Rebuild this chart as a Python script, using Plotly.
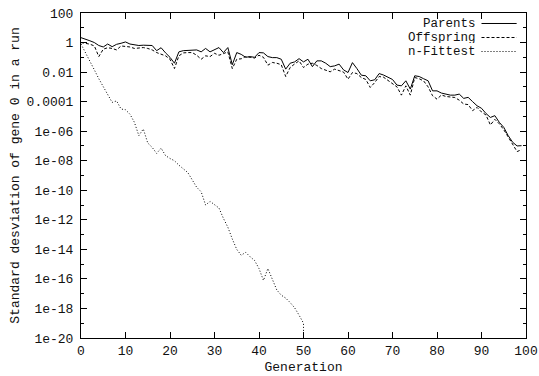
import plotly.graph_objects as go

# ---- data (log10 of the standard deviation) ----
generations = list(range(100))

parents_log10 = [
    0.33, 0.20, 0.12, 0.00, -0.20, -0.30, -0.10, -0.28, -0.12, -0.05,
    0.04, -0.10, -0.15, -0.20, -0.18, -0.20, -0.20, -0.55, -0.35, -0.70,
    -1.00, -1.40, -0.63, -0.55, -0.52, -0.50, -0.50, -0.63, -0.40, -0.63,
    -0.50, -0.34, -0.68, -0.34, -1.50, -0.68, -0.80, -1.00, -0.95, -1.00,
    -0.68, -0.70, -0.95, -1.02, -1.02, -1.13, -1.80, -1.40, -1.31, -1.09,
    -1.31, -1.13, -1.63, -1.24, -1.24, -1.40, -1.63, -1.58, -1.46, -1.85,
    -2.03, -1.36, -1.76, -2.21, -2.25, -2.59, -2.52, -2.10, -2.20, -2.35,
    -2.50, -2.88, -2.93, -2.59, -3.15, -2.25, -2.30, -2.45, -2.59, -3.27,
    -3.27, -3.42, -3.50, -3.56, -3.56, -3.49, -3.78, -3.71, -4.00, -4.28,
    -4.45, -4.80, -5.07, -4.95, -5.40, -5.74, -6.30, -6.75, -7.00, -6.98,
]

offspring_log10 = [
    0.00, -0.05, -0.11, -0.23, -0.95, -0.45, -0.35, -0.40, -0.50, -0.23,
    -0.25, -0.30, -0.40, -0.38, -0.34, -0.40, -0.50, -0.68, -0.80, -0.90,
    -1.13, -1.76, -0.90, -0.70, -0.68, -0.68, -0.86, -1.13, -0.90, -0.95,
    -0.73, -0.86, -0.75, -0.63, -1.76, -1.13, -1.10, -0.95, -1.00, -1.05,
    -0.86, -1.00, -1.53, -1.35, -1.40, -1.50, -2.30, -1.69, -1.45, -1.24,
    -1.69, -1.46, -1.40, -1.55, -1.76, -1.85, -1.98, -1.80, -1.90, -2.00,
    -2.48, -2.03, -2.10, -2.37, -2.50, -3.04, -2.71, -2.30, -2.35, -2.55,
    -2.75, -3.00, -3.56, -2.93, -3.56, -2.37, -2.45, -2.60, -3.00, -3.60,
    -3.83, -3.55, -3.65, -3.70, -3.72, -3.90, -4.16, -4.20, -4.61, -4.39,
    -4.70, -4.90, -5.58, -5.20, -5.50, -5.90, -6.40, -6.93, -7.38, -7.25,
]

# n-Fittest collapses to (numerically) zero after generation 50
nfittest_log10 = [
    -0.10, -0.65, -1.30, -1.85, -2.45, -3.00, -3.55, -4.05, -3.95, -4.50,
    -4.55, -4.85, -5.40, -6.30, -5.85, -6.80, -7.10, -7.50, -7.15, -7.65,
    -7.85, -8.00, -8.30, -8.55, -8.80, -9.30, -9.80, -10.10, -11.00, -10.75,
    -10.95, -11.20, -11.90, -12.50, -13.30, -14.00, -14.40, -14.20, -14.50, -14.75,
    -15.30, -16.10, -15.30, -16.00, -16.75, -17.10, -17.30, -17.60, -17.95, -18.45,
    -19.00, -300.0,
]

series_names = ["Parents", "Offspring", "n-Fittest"]
y_tick_exponents = [2, 0, -2, -4, -6, -8, -10, -12, -14, -16, -18, -20]
y_tick_labels = ["100", "1", "0.01", "0.0001", "1e-06", "1e-08", "1e-10",
                 "1e-12", "1e-14", "1e-16", "1e-18", "1e-20"]
x_ticks = [0, 10, 20, 30, 40, 50, 60, 70, 80, 90, 100]

# ---- styling ----
FONT = "Liberation Mono, Courier New, monospace"
FS = 13
TXT = "#111111"
dashes = ["solid", "3px,2px", "1px,2px"]

series = [
    [10 ** v for v in parents_log10],
    [10 ** v for v in offspring_log10],
    [10 ** v for v in nfittest_log10],
]

fig = go.Figure()
for name, ys, dash in zip(series_names, series, dashes):
    fig.add_trace(go.Scatter(
        x=generations[:len(ys)], y=ys, mode="lines", name=name,
        line=dict(color="black", width=1, dash=dash),
        showlegend=False,
    ))

# gnuplot-style key: right-justified text followed by a line sample
key_rows_y = [0.9677, 0.9246, 0.8815]
for name, dash, yk in zip(series_names, dashes, key_rows_y):
    fig.add_annotation(
        xref="paper", yref="paper", x=0.890, y=yk, text=name,
        showarrow=False, xanchor="right", yanchor="middle",
        height=11, borderpad=0, valign="middle",
        font=dict(family=FONT, size=12.5, color=TXT),
    )
    fig.add_shape(
        type="line", xref="paper", yref="paper",
        x0=0.900, x1=0.979, y0=yk, y1=yk,
        line=dict(color="black", width=1, dash=dash),
    )

fig.update_layout(
    width=539, height=376,
    margin=dict(l=81, r=13, t=13, b=38),
    paper_bgcolor="white", plot_bgcolor="white",
    font=dict(family=FONT, size=FS, color=TXT),
    xaxis=dict(
        range=[0, 100], tickvals=x_ticks, ticktext=[str(t) for t in x_ticks],
        ticks="inside", ticklen=6, tickcolor="black", tickwidth=1,
        showline=True, linecolor="black", linewidth=1, mirror="ticks",
        showgrid=False, zeroline=False, automargin=False,
        tickfont=dict(family=FONT, size=FS, color=TXT),
        title=dict(text="Generation", standoff=4,
                   font=dict(family=FONT, size=FS, color=TXT)),
    ),
    yaxis=dict(
        type="log", range=[-20, 2],
        tickvals=[10 ** e for e in y_tick_exponents], ticktext=y_tick_labels,
        ticks="inside", ticklen=6, tickcolor="black", tickwidth=1,
        minor=dict(
            tickvals=[10 ** e for e in range(-19, 2, 2)],
            ticks="inside", ticklen=3, tickcolor="black", tickwidth=1,
            showgrid=False,
        ),
        showline=True, linecolor="black", linewidth=1, mirror="ticks",
        showgrid=False, zeroline=False, ticklabelstandoff=4, automargin=False,
        tickfont=dict(family=FONT, size=FS, color=TXT),
        title=dict(text="Standard desviation of gene 0 in a run", standoff=4,
                   font=dict(family=FONT, size=FS, color=TXT)),
    ),
)

fig.write_html("out.html")
